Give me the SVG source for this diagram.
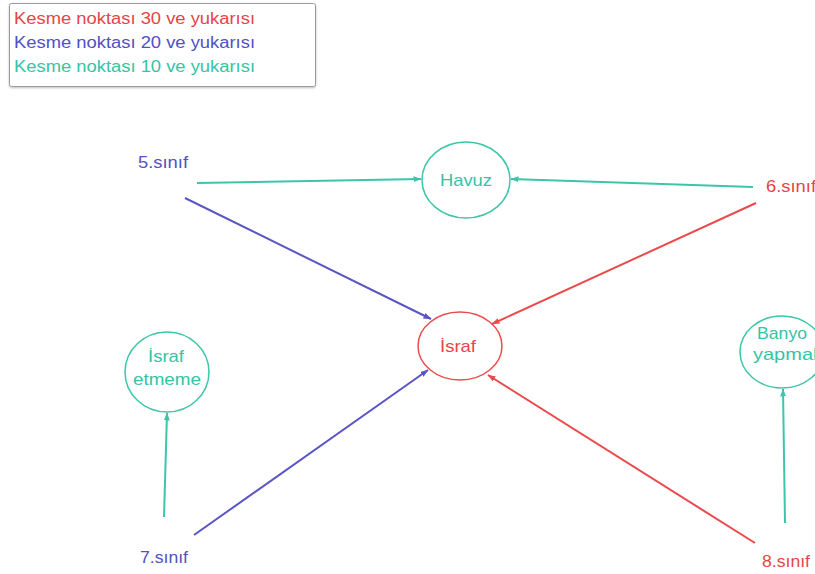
<svg xmlns="http://www.w3.org/2000/svg" width="815" height="574" viewBox="0 0 815 574">
  <style>
    text { font-family: "Liberation Sans", Arial, sans-serif; font-size: 16px; }
    .lbl { font-size: 17px; }
    .red { fill: #e64547; }
    .blue { fill: #5151c2; }
    .teal { fill: #36c3a6; }
    .node { fill: #ffffff; stroke-width: 1.5; }
    .edge { fill: none; stroke-width: 2; }
    .e-red { stroke: #ea4a4c; }
    .e-blue { stroke: #5a55c4; }
    .e-teal { stroke: #3cc5aa; }
    .mid { text-anchor: middle; }
  </style>
  <defs>
    <marker id="arrow-red" markerWidth="8" markerHeight="6" refX="7.5" refY="3" orient="auto" markerUnits="userSpaceOnUse">
      <path d="M0,0 L8,3 L0,6 z" fill="#ea4a4c"/>
    </marker>
    <marker id="arrow-blue" markerWidth="8" markerHeight="6" refX="7.5" refY="3" orient="auto" markerUnits="userSpaceOnUse">
      <path d="M0,0 L8,3 L0,6 z" fill="#5a55c4"/>
    </marker>
    <marker id="arrow-teal" markerWidth="8" markerHeight="6" refX="7.5" refY="3" orient="auto" markerUnits="userSpaceOnUse">
      <path d="M0,0 L8,3 L0,6 z" fill="#3cc5aa"/>
    </marker>
    <filter id="shadow" x="-5%" y="-10%" width="110%" height="130%">
      <feDropShadow dx="0" dy="1" stdDeviation="1" flood-color="#000" flood-opacity="0.25"/>
    </filter>
  </defs>

  <rect width="815" height="574" fill="#ffffff"/>

  <!-- legend -->
  <g id="legend">
    <rect x="9.5" y="3.5" width="306" height="83" rx="2" fill="#ffffff" stroke="#9a9a9a" stroke-width="1" filter="url(#shadow)"/>
    <text x="14" y="24" class="red" textLength="241" lengthAdjust="spacingAndGlyphs">Kesme noktası 30 ve yukarısı</text>
    <text x="14" y="48" class="blue" textLength="241" lengthAdjust="spacingAndGlyphs">Kesme noktası 20 ve yukarısı</text>
    <text x="14" y="72" class="teal" textLength="241" lengthAdjust="spacingAndGlyphs">Kesme noktası 10 ve yukarısı</text>
  </g>

  <!-- connectors -->
  <g id="edges">
    <line class="edge e-teal" x1="197" y1="183" x2="421" y2="179" marker-end="url(#arrow-teal)"/>
    <line class="edge e-teal" x1="753" y1="187" x2="511" y2="179" marker-end="url(#arrow-teal)"/>
    <line class="edge e-blue" x1="185" y1="198" x2="431" y2="319" marker-end="url(#arrow-blue)"/>
    <line class="edge e-red" x1="756" y1="203" x2="492" y2="324" marker-end="url(#arrow-red)"/>
    <line class="edge e-blue" x1="194" y1="535" x2="428" y2="370" marker-end="url(#arrow-blue)"/>
    <line class="edge e-red" x1="755" y1="543" x2="488" y2="375" marker-end="url(#arrow-red)"/>
    <line class="edge e-teal" x1="164" y1="517" x2="167" y2="413" marker-end="url(#arrow-teal)"/>
    <line class="edge e-teal" x1="785" y1="523" x2="783" y2="389" marker-end="url(#arrow-teal)"/>
  </g>

  <!-- nodes -->
  <g id="sinif5">
    <text x="138" y="168" class="lbl blue" textLength="50" lengthAdjust="spacingAndGlyphs">5.sınıf</text>
  </g>
  <g id="sinif6">
    <text x="766" y="192" class="lbl red" textLength="50" lengthAdjust="spacingAndGlyphs">6.sınıf</text>
  </g>
  <g id="sinif7">
    <text x="140" y="563" class="lbl blue" textLength="48" lengthAdjust="spacingAndGlyphs">7.sınıf</text>
  </g>
  <g id="sinif8">
    <text x="762" y="567" class="lbl red" textLength="48" lengthAdjust="spacingAndGlyphs">8.sınıf</text>
  </g>

  <g id="havuz">
    <ellipse cx="466" cy="180" rx="44" ry="38" class="node" stroke="#3cc5aa"/>
    <text x="466" y="186" class="lbl teal mid" textLength="52" lengthAdjust="spacingAndGlyphs">Havuz</text>
  </g>

  <g id="israf">
    <ellipse cx="460" cy="346" rx="42" ry="34" class="node" stroke="#ea4a4c"/>
    <text x="458" y="352" class="lbl red mid" textLength="36" lengthAdjust="spacingAndGlyphs">İsraf</text>
  </g>

  <g id="israf-etmeme">
    <ellipse cx="167" cy="372" rx="42" ry="40" class="node" stroke="#3cc5aa"/>
    <text x="166" y="362" class="lbl teal mid" textLength="36" lengthAdjust="spacingAndGlyphs">İsraf</text>
    <text x="167" y="385" class="lbl teal mid" textLength="68" lengthAdjust="spacingAndGlyphs">etmeme</text>
  </g>

  <g id="banyo-yapmak">
    <ellipse cx="782" cy="352" rx="42" ry="36" class="node" stroke="#3cc5aa"/>
    <text x="782" y="339" class="lbl teal mid" textLength="50" lengthAdjust="spacingAndGlyphs">Banyo</text>
    <text x="788" y="360" class="lbl teal mid" textLength="70" lengthAdjust="spacingAndGlyphs">yapmak</text>
  </g>
</svg>
